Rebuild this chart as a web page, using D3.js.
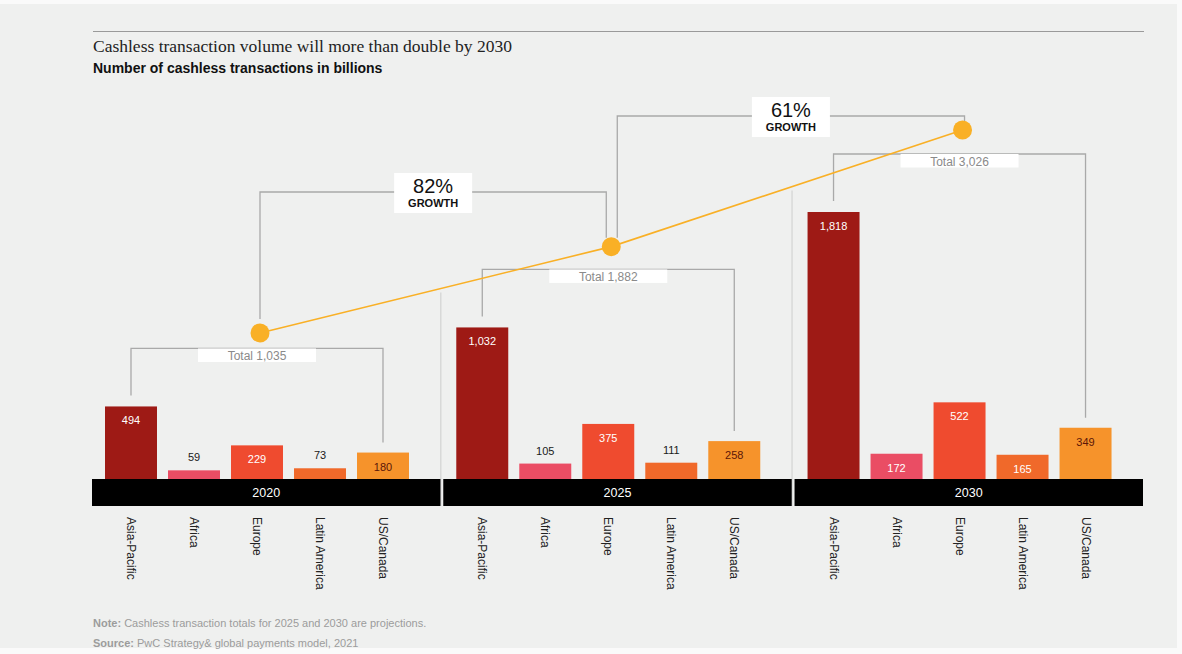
<!DOCTYPE html>
<html>
<head>
<meta charset="utf-8">
<script src="https://cdn.jsdelivr.net/npm/d3@7"></script>
<style>
  html, body { margin: 0; padding: 0; background: #ffffff; }
  svg { display: block; }
</style>
</head>
<body>
<svg id="chart" width="1182" height="654"></svg>
<script>
// ---------- data ----------
const years = ["2020", "2025", "2030"];
const regions = ["Asia-Pacific", "Africa", "Europe", "Latin America", "US/Canada"];
const values2020 = [494, 59, 229, 73, 180];
const values2025 = [1032, 105, 375, 111, 258];
const values2030 = [1818, 172, 522, 165, 349];
const totals = [1035, 1882, 3026];
const growthLabels = ["82%", "61%"];
const title = "Cashless transaction volume will more than double by 2030";
const subtitle = "Number of cashless transactions in billions";
const note = "Cashless transaction totals for 2025 and 2030 are projections.";
const source = "PwC Strategy& global payments model, 2021";

// ---------- styles ----------
const regionColors = ["#9e1a15", "#ea4d64", "#ef4b2f", "#f0692a", "#f6932b"];
const labelInk = ["#ffffff", "#ffffff", "#ffffff", "#ffffff", "#5c1608"];
const bg = "#eff0ef";
const sans = "'Liberation Sans', Arial, sans-serif";

const seriesByYear = [values2020, values2025, values2030];

const svg = d3.select("#chart");
svg.append("rect").attr("x", 0).attr("y", 0).attr("width", 1182).attr("height", 654).attr("fill", "#fafafa");
svg.append("rect").attr("x", 0).attr("y", 4).attr("width", 1177).attr("height", 644).attr("fill", bg);

// ---------- scales ----------
const baseY = 479, bandH = 27;
const y = d3.scaleLinear().domain([0, 1818]).range([baseY, 212]);
const gx = d3.scaleBand().domain(years).range([92, 1143]).paddingInner(0.008).paddingOuter(0);
const bx = d3.scaleBand().domain(regions).range([7.5, 322.5]).paddingInner(0.175).paddingOuter(0.0875);
const totalY = d3.scaleLinear().domain([0, 3026]).range([438.5, 130]);

// ---------- header ----------
svg.append("line").attr("x1", 93).attr("x2", 1144).attr("y1", 31.5).attr("y2", 31.5)
  .attr("stroke", "#9a9a9a").attr("stroke-width", 1.2);
svg.append("text").attr("x", 93).attr("y", 52).text(title)
  .attr("font-family", "'Liberation Serif', 'Times New Roman', serif").attr("font-size", 17.5).attr("fill", "#222");
svg.append("text").attr("x", 93).attr("y", 73).text(subtitle)
  .attr("font-family", sans).attr("font-size", 14).attr("font-weight", "bold").attr("fill", "#111");

// ---------- dots positions ----------
const cx = (i, r) => gx(years[i]) + bx(regions[r]) + bx.bandwidth() / 2;
const dots = years.map((yr, i) => ({
  x: (cx(i, 0) + cx(i, 4)) / 2 + 3,
  y: totalY(totals[i])
}));

// ---------- separators ----------
for (let i = 1; i < years.length; i++) {
  const sx = gx(years[i]) - 2.5;
  const a = dots[i - 1], b = dots[i];
  const ly = a.y + (sx - a.x) * (b.y - a.y) / (b.x - a.x);
  svg.append("line").attr("x1", sx).attr("x2", sx).attr("y1", ly + 4).attr("y2", baseY + bandH)
    .attr("stroke", "#d8d9d8").attr("stroke-width", 1.5);
}

// ---------- bars ----------
years.forEach((yr, i) => {
  const g = svg.append("g").attr("transform", `translate(${gx(yr)},0)`);
  const vals = seriesByYear[i];
  g.selectAll("rect.bar").data(vals).join("rect").attr("class", "bar")
    .attr("x", (d, j) => bx(regions[j]))
    .attr("width", bx.bandwidth())
    .attr("y", d => y(d))
    .attr("height", d => baseY - y(d))
    .attr("fill", (d, j) => regionColors[j]);
  g.selectAll("text.val").data(vals).join("text").attr("class", "val")
    .attr("x", (d, j) => bx(regions[j]) + bx.bandwidth() / 2)
    .attr("y", d => (baseY - y(d) < 20) ? y(d) - 9 : y(d) + 18)
    .attr("text-anchor", "middle")
    .attr("font-family", sans).attr("font-size", 11)
    .attr("fill", (d, j) => (baseY - y(d) < 20) ? "#1a1a1a" : labelInk[j])
    .text(d => d3.format(",")(d));

  // year band
  svg.append("rect").attr("x", gx(yr)).attr("y", baseY).attr("width", gx.bandwidth()).attr("height", bandH)
    .attr("fill", "#000");
  svg.append("text").attr("x", gx(yr) + gx.bandwidth() / 2).attr("y", baseY + 18)
    .attr("text-anchor", "middle").attr("font-family", sans).attr("font-size", 12.5).attr("fill", "#fff").text(yr);

  // category labels
  g.selectAll("text.cat").data(regions).join("text").attr("class", "cat")
    .attr("transform", d => `translate(${bx(d) + bx.bandwidth() / 2 - 4},${baseY + bandH + 11}) rotate(90)`)
    .attr("font-family", sans).attr("font-size", 12).attr("fill", "#222")
    .text(d => d);

  // total bracket
  const by = y(d3.max(vals)) - 58;
  const x0 = cx(i, 0), x4 = cx(i, 4);
  svg.append("path")
    .attr("d", `M${x0},${y(vals[0]) - 11}V${by}H${x4}V${y(vals[4]) - 10}`)
    .attr("fill", "none").attr("stroke", "#a9a9a9").attr("stroke-width", 1.3);
  const mid = (x0 + x4) / 2;
  svg.append("rect").attr("x", mid - 59).attr("y", by).attr("width", 118).attr("height", 13.5).attr("fill", "#fff");
  svg.append("text").attr("x", mid).attr("y", by + 11.5).attr("text-anchor", "middle")
    .attr("font-family", sans).attr("font-size", 12).attr("fill", "#8a8a8a")
    .text("Total " + d3.format(",")(totals[i]));
});

// ---------- growth brackets ----------
const growthY = [192, 116];
growthLabels.forEach((lab, k) => {
  const a = dots[k], b = dots[k + 1];
  const xa = k === 0 ? a.x : a.x + 6;
  const xb = k === 0 ? b.x - 5 : b.x + 2;
  const yl = growthY[k];
  svg.append("path")
    .attr("d", `M${xa},${(k === 0 ? a.y - 14 : a.y - 9)}V${yl}H${xb}V${b.y - 9}`)
    .attr("fill", "none").attr("stroke", "#a9a9a9").attr("stroke-width", 1.3);
  const m = (xa + xb) / 2;
  svg.append("rect").attr("x", m - 39).attr("y", yl - 19).attr("width", 78).attr("height", 40).attr("fill", "#fff");
  svg.append("text").attr("x", m).attr("y", yl + 1).attr("text-anchor", "middle")
    .attr("font-family", sans).attr("font-size", 20).attr("font-weight", 500).attr("fill", "#111").text(lab);
  svg.append("text").attr("x", m).attr("y", yl + 15).attr("text-anchor", "middle")
    .attr("font-family", sans).attr("font-size", 11).attr("font-weight", "bold").attr("fill", "#111").text("GROWTH");
});

// ---------- totals line + dots ----------
svg.append("path").datum(dots)
  .attr("d", d3.line().x(d => d.x).y(d => d.y))
  .attr("fill", "none").attr("stroke", "#f9b026").attr("stroke-width", 1.6);
svg.selectAll("circle.dot").data(dots).join("circle").attr("class", "dot")
  .attr("cx", d => d.x).attr("cy", d => d.y).attr("r", 9.5).attr("fill", "#f9b026");

// ---------- footer ----------
const foot = svg.append("g").attr("font-family", sans).attr("font-size", 11).attr("fill", "#9c9c9c");
const t1 = foot.append("text").attr("x", 93).attr("y", 627);
t1.append("tspan").attr("font-weight", "bold").text("Note:");
t1.append("tspan").text(" " + note);
const t2 = foot.append("text").attr("x", 93).attr("y", 647);
t2.append("tspan").attr("font-weight", "bold").text("Source:");
t2.append("tspan").text(" " + source);
</script>
</body>
</html>
